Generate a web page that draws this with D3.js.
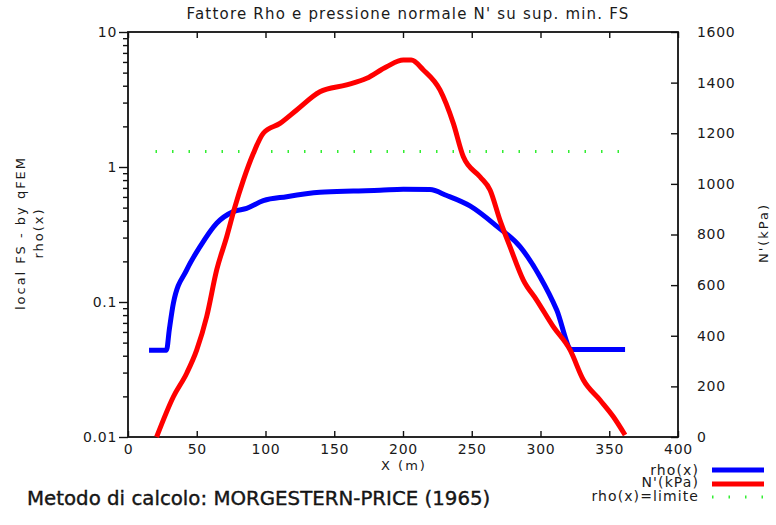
<!DOCTYPE html>
<html>
<head>
<meta charset="utf-8">
<script src="https://cdn.jsdelivr.net/npm/d3@7"></script>
<style>
  html, body { margin: 0; padding: 0; background: #fff; }
  svg { display: block; }
  text { font-family: "DejaVu Sans", sans-serif; fill: #1a1a1a; }
</style>
</head>
<body>
<svg id="chart" width="776" height="525"></svg>
<script>
// Rho factor along the slip surface (log scale, left axis)
const rhoX   = [15.3, 28, 30, 33, 42.7, 52.4, 64.5, 76.6, 86.3, 98.4, 115.4, 139.6, 163.9, 183.3, 200.2, 219.6, 231.8, 248.7, 268.1, 285.1, 299.6, 311.8, 322.7, 361.5];
const rhoVal = [0.044, 0.044, 0.062, 0.098, 0.173, 0.257, 0.383, 0.467, 0.494, 0.563, 0.603, 0.649, 0.664, 0.672, 0.684, 0.68, 0.615, 0.515, 0.365, 0.257, 0.154, 0.0873, 0.0445, 0.0445];

// Normal pressure N' along the slip surface (kPa, right axis)
const nX   = [20.8, 33, 42.7, 50, 57.2, 64.5, 71.8, 77.8, 83.9, 91.2, 98.4, 110.5, 122.7, 139.6, 159, 173.6, 188.1, 200.2, 206, 214.8, 226.9, 236.6, 243.9, 256, 263.3, 270.5, 277.8, 287.5, 297.2, 309.3, 321.5, 331.2, 343.3, 353, 361.5];
const nVal = [0, 159, 252, 344, 475, 660, 791, 910, 1015, 1121, 1200, 1239, 1292, 1364, 1391, 1417, 1463, 1489, 1489, 1450, 1371, 1239, 1107, 1028, 976, 857, 752, 620, 541, 436, 344, 225, 146, 80, 8];

// Limit value of rho (dotted line)
const limitX   = [20, 360];
const limitVal = 1.3;

// Axis ticks
const xTicks      = [0, 50, 100, 150, 200, 250, 300, 350, 400];
const rhoMajor    = [0.01, 0.1, 1, 10];
const rhoMajorLbl = ["0.01", "0.1", "1", "10"];
const nTicks      = [0, 200, 400, 600, 800, 1000, 1200, 1400, 1600];

const svg = d3.select("#chart");
const L = 128, R = 678, T = 32, B = 437;

const x  = d3.scaleLinear().domain([0, 400]).range([L, R]);
const yL = d3.scaleLog().domain([0.01, 10]).range([B, T]);
const yR = d3.scaleLinear().domain([0, 1600]).range([B, T]);

// minor log ticks 2..9 in each decade
const rhoMinor = [];
[0.01, 0.1, 1].forEach(d => { for (let k = 2; k <= 9; k++) rhoMinor.push(+(d * k).toPrecision(3)); });

function styleAxis(g) {
  g.select(".domain").remove();
  g.selectAll(".tick line").attr("stroke", "#111").attr("stroke-width", 1.4);
  g.selectAll(".tick text").attr("font-size", 14).attr("letter-spacing", 0.7)
    .attr("fill", "#1a1a1a").attr("font-family", "DejaVu Sans, sans-serif");
}

// left log axis: major + minor, ticks pointing outward
svg.append("g").attr("transform", `translate(${L},0)`)
  .call(d3.axisLeft(yL).tickValues(rhoMajor).tickSize(9).tickPadding(2)
    .tickFormat((d, i) => rhoMajorLbl[i]))
  .call(styleAxis);
svg.append("g").attr("transform", `translate(${L},0)`)
  .call(d3.axisLeft(yL).tickValues(rhoMinor).tickSize(5).tickFormat(""))
  .call(styleAxis);

// bottom axis, ticks inward
svg.append("g").attr("transform", `translate(0,${B})`)
  .call(d3.axisBottom(x).tickValues(xTicks).tickSize(-6).tickPadding(7).tickFormat(d3.format("d")))
  .call(styleAxis);

// top axis, ticks inward, no labels
svg.append("g").attr("transform", `translate(0,${T})`)
  .call(d3.axisTop(x).tickValues(xTicks).tickSize(-6).tickFormat(""))
  .call(styleAxis);

// right axis for N', ticks inward
svg.append("g").attr("transform", `translate(${R},0)`)
  .call(d3.axisRight(yR).tickValues(nTicks).tickSize(-7).tickPadding(19).tickFormat(d3.format("d")))
  .call(styleAxis);

// plot frame
svg.append("rect").attr("x", L).attr("y", T).attr("width", R - L).attr("height", B - T)
  .attr("fill", "none").attr("stroke", "#111").attr("stroke-width", 1.8);

// limit line
svg.append("line")
  .attr("x1", x(limitX[0])).attr("x2", x(limitX[1]))
  .attr("y1", yL(limitVal)).attr("y2", yL(limitVal))
  .attr("stroke", "#33ee33").attr("stroke-width", 3)
  .attr("stroke-dasharray", "1.5,15");

const rhoLine = d3.line().x(d => x(d[0])).y(d => yL(d[1])).curve(d3.curveMonotoneX);
const nLine   = d3.line().x(d => x(d[0])).y(d => yR(d[1])).curve(d3.curveMonotoneX);

// rho curve
svg.append("path")
  .datum(rhoX.map((v, i) => [v, rhoVal[i]]))
  .attr("d", rhoLine)
  .attr("fill", "none").attr("stroke", "#0000ff").attr("stroke-width", 5)
  .attr("stroke-linejoin", "round");

// N' curve
svg.append("path")
  .datum(nX.map((v, i) => [v, nVal[i]]))
  .attr("d", nLine)
  .attr("fill", "none").attr("stroke", "#ff0000").attr("stroke-width", 5)
  .attr("stroke-linejoin", "round");

// title
svg.append("text").attr("x", 408).attr("y", 19).attr("text-anchor", "middle")
  .attr("font-size", 15).attr("letter-spacing", 1.2)
  .attr("fill", "#111")
  .text("Fattore Rho e pressione normale N' su sup. min. FS");

// axis titles
svg.append("text").attr("transform", "translate(25,233) rotate(-90)").attr("text-anchor", "middle")
  .attr("font-size", 13).attr("letter-spacing", 2).text("local FS - by qFEM");
svg.append("text").attr("transform", "translate(43,233) rotate(-90)").attr("text-anchor", "middle")
  .attr("font-size", 13).attr("letter-spacing", 2).text("rho(x)");
svg.append("text").attr("transform", "translate(768,233) rotate(-90)").attr("text-anchor", "middle")
  .attr("font-size", 13).attr("letter-spacing", 2).text("N'(kPa)");
svg.append("text").attr("x", 404).attr("y", 470).attr("text-anchor", "middle")
  .attr("font-size", 13).attr("letter-spacing", 2).text("X (m)");

// legend
const legend = [
  { label: "rho(x)", color: "#0000ff", dash: null, y: 470, ty: 475 },
  { label: "N'(kPa)", color: "#ff0000", dash: null, y: 484, ty: 487 },
  { label: "rho(x)=limite", color: "#33ee33", dash: "1.5,15", y: 497, ty: 501 }
];
legend.forEach(d => {
  svg.append("text").attr("x", 699).attr("y", d.ty).attr("text-anchor", "end")
    .attr("font-size", 14).attr("letter-spacing", 1.1)
    .text(d.label);
  svg.append("line").attr("x1", 712).attr("x2", 764).attr("y1", d.y).attr("y2", d.y)
    .attr("stroke", d.color).attr("stroke-width", d.dash ? 3 : 5)
    .attr("stroke-dasharray", d.dash);
});

// calculation method note
svg.append("text").attr("x", 27).attr("y", 505).attr("font-size", 19.8)
  .attr("fill", "#000").attr("stroke", "#000").attr("stroke-width", 0.35)
  .text("Metodo di calcolo: MORGESTERN-PRICE (1965)");
</script>
</body>
</html>
